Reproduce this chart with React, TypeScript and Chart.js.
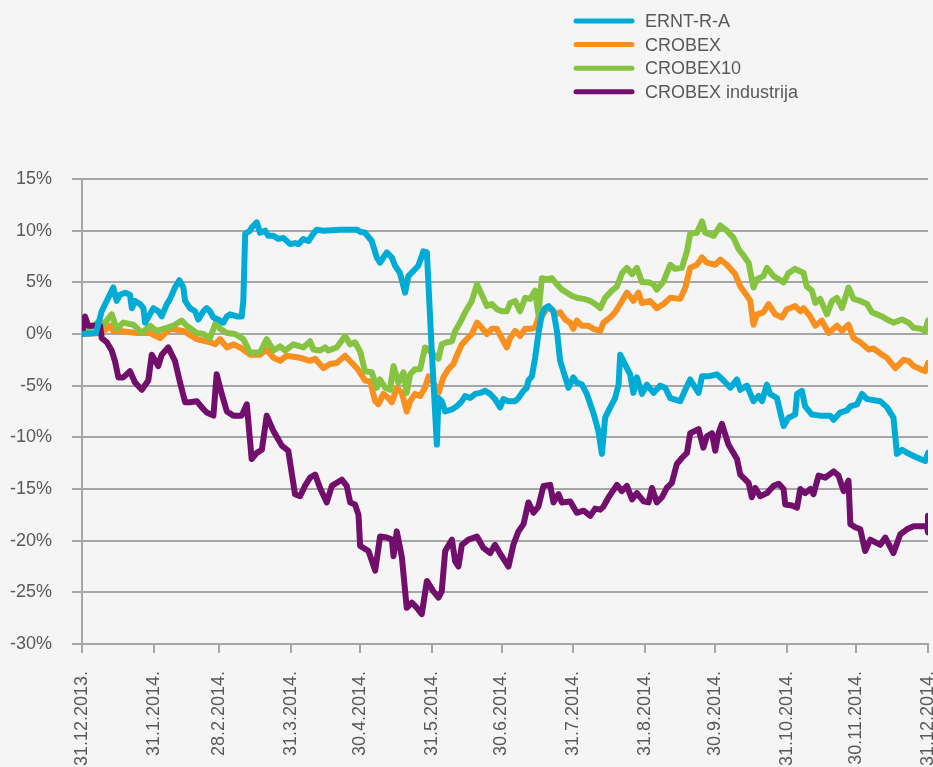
import React, { useEffect, useRef } from "react";
import { Chart, registerables } from "chart.js";

Chart.register(...registerables);

const seriesNames = ["ERNT-R-A", "CROBEX", "CROBEX10", "CROBEX industrija"];
const seriesColors = ["#00acd6", "#f7901e", "#85c341", "#720e6b"];

const tickDays = [0, 31, 59, 90, 120, 151, 181, 212, 243, 273, 304, 334, 365];
const tickLabels = [
  "31.12.2013.", "31.1.2014.", "28.2.2014.", "31.3.2014.", "30.4.2014.", "31.5.2014.",
  "30.6.2014.", "31.7.2014.", "31.8.2014.", "30.9.2014.", "31.10.2014.", "30.11.2014.", "31.12.2014.",
];

// ERNT-R-A
const erntDays = [
  0, 6, 8.5, 10.7, 13.5, 15, 16.4, 18.6, 20.7, 21.5, 22.9, 25, 26.5, 27.2, 30.8, 32.9, 34.4, 36.6, 38, 40.1,
  42, 43.7, 44.5, 46.6, 48.8, 50.2, 52.4, 53.8, 55.2, 56.7, 58.8, 61, 62.5, 63.9, 66.8, 68.9, 69.6, 70.4, 72.5, 73.2,
  75.4, 76.8, 79, 80.4, 82.6, 84.7, 86.9, 89.8, 91.9, 93.4, 95.5, 97.7, 99.8, 101.3, 104.1, 111.4, 118.6, 120, 122.1, 125,
  127.2, 128.6, 131.5, 133.7, 135.1, 137.2, 139.4, 140.8, 143, 145.1, 147.3, 148.8, 150.9, 153.1, 153.8, 155.2, 156.7, 159.6, 161.7, 163.9,
  165.3, 167.5, 169.6, 171.8, 173.9, 176.1, 178.2, 180.4, 181.8, 184, 186.9, 188.3, 190.5, 191.9, 192.6, 194.1, 195.5, 196.9, 198.4, 199.8,
  201.3, 203.4, 204.9, 206.3, 208.5, 209.9, 212, 213.5, 215.7, 217.8, 220.7, 222.8, 224.3, 225.7, 227.9, 230, 231.5, 232.2, 235.1, 236.5,
  237.9, 239.4, 241.6, 243.7, 246.6, 249.5, 251.6, 253.8, 258.1, 260.3, 262.4, 264.6, 266, 267.5, 270.3, 273.9, 276.8, 279.7, 282.6, 284,
  286.9, 289.7, 291.9, 293.4, 295.5, 296.9, 299.8, 302.7, 304.8, 307.7, 308.5, 310.6, 312, 314.9, 318.5, 322.8, 324.3, 327.1, 330, 331.5,
  334.4, 336.5, 338.7, 344.4, 347.3, 350.1, 351.6, 353.8, 355.9, 358.8, 361.7, 363.8, 365,
];
const erntValues = [
  0, 0.1, 2.2, 3.2, 4.5, 3.2, 3.8, 4.0, 3.8, 2.5, 3.2, 2.9, 2.5, 1.1, 2.5, 2.2, 1.7, 2.9, 3.4, 4.5,
  5.2, 4.5, 3.2, 2.5, 2.2, 1.4, 2.2, 2.5, 2.2, 1.6, 1.4, 1.1, 1.7, 1.9, 1.7, 1.7, 3.2, 9.7, 10.0, 10.3,
  10.8, 9.8, 10.0, 9.5, 9.5, 9.2, 9.3, 8.7, 8.8, 8.7, 9.2, 9.0, 9.7, 10.1, 10.0, 10.1, 10.1, 9.9, 9.8, 9.0,
  7.4, 6.9, 7.9, 7.4, 6.6, 5.9, 4.0, 5.6, 6.1, 6.6, 8.0, 7.9, -1.6, -10.7, -6.2, -6.5, -7.5, -7.3, -7.0, -6.5,
  -6.0, -6.2, -5.8, -5.7, -5.5, -5.8, -6.3, -7.1, -6.3, -6.5, -6.5, -6.2, -5.5, -5.2, -4.5, -4.1, -2.3, 0, 1.9, 2.5,
  2.7, 2.2, 0.3, -2.6, -4.2, -5.2, -4.2, -4.7, -4.9, -5.8, -7.7, -9.4, -11.6, -8.1, -7.1, -6.2, -4.9, -2.0, -3.3, -3.9,
  -5.7, -4.2, -5.8, -4.9, -5.7, -5.0, -5.2, -6.2, -6.5, -5.4, -4.4, -5.2, -5.7, -4.1, -4.1, -3.9, -4.5, -5.2, -4.4, -5.4,
  -5.0, -6.5, -6.0, -6.5, -4.9, -5.8, -6.2, -8.9, -8.1, -7.8, -5.8, -5.5, -7.0, -7.8, -7.9, -7.9, -8.3, -7.6, -7.4, -7.0,
  -6.8, -5.8, -6.3, -6.5, -7.1, -8.1, -11.6, -11.2, -11.5, -11.8, -12.1, -12.3, -11.5,
];

// CROBEX
const crobexDays = [
  0, 8.5, 12.1, 13.5, 16.4, 23.6, 29.3, 33.7, 38, 43.7, 49.5, 55.2, 57.4, 59.6, 62.5, 65.3, 68.2, 72.5, 76.8, 79.7,
  82.6, 85.5, 88.3, 94.1, 98.4, 100.6, 104.1, 107, 109.9, 113.5, 116.4, 118.6, 120.7, 122.1, 124.3, 126.5, 127.9, 130, 132.2, 133.7,
  135.8, 138, 140.1, 141.6, 143.7, 145.9, 148, 149.5, 151.6, 153.8, 155.9, 158.1, 160.3, 161.7, 163.9, 166, 168.2, 170.4, 172.5, 174.7,
  176.8, 179, 181.1, 183.3, 184.7, 186.9, 189, 191.2, 193.4, 195.5, 196.9, 198.4, 200.6, 202.7, 204.1, 206.3, 208.5, 210.6, 212, 213.5,
  215.7, 218.5, 220.7, 223.6, 225, 227.9, 230, 232.2, 235.1, 237.9, 240.1, 241.6, 245.1, 248, 250.9, 253.8, 258.1, 260.3, 262.4, 265.3,
  267.5, 269.6, 273.2, 275.4, 278.2, 281.8, 284, 286.9, 288.3, 289.7, 291.2, 294, 296.2, 299.1, 302, 304.1, 307.7, 309.9, 311.3, 314.2,
  316.4, 319.2, 322.1, 325.7, 327.9, 330.7, 332.9, 335.8, 339.4, 341.5, 345.8, 347.3, 350.9, 354.5, 356.6, 358.8, 361.7, 363.8, 365,
];
const crobexValues = [
  0, 0.1, 0.8, 0.3, 0.3, 0.1, 0.1, -0.4, 0.5, 0.3, -0.5, -0.8, -1.0, -0.5, -1.3, -1.0, -1.3, -2.0, -2.0, -1.5,
  -2.3, -2.6, -2.1, -2.3, -2.6, -2.4, -3.3, -2.9, -2.8, -2.1, -2.8, -3.3, -4.0, -4.5, -4.6, -6.5, -6.8, -5.8, -6.2, -6.6,
  -5.2, -5.7, -7.5, -6.5, -5.8, -6.0, -5.2, -4.1, -4.7, -5.7, -4.2, -3.4, -2.9, -2.1, -1.0, -0.5, 0, 1.1, 0.6, 0,
  0.5, 0.5, -0.4, -1.3, -0.4, 0.3, -0.2, 0.5, 0.5, 0.6, 1.6, 1.7, 2.5, 2.4, 1.9, 2.1, 1.4, 1.1, 0.5, 1.3,
  0.8, 0.8, 0.5, 0.3, 1.1, 1.6, 2.1, 2.9, 4.0, 3.2, 4.0, 3.0, 3.2, 2.5, 2.9, 3.5, 3.4, 4.5, 6.4, 6.7,
  7.4, 6.9, 6.7, 7.2, 6.7, 5.8, 4.6, 3.7, 3.2, 0.9, 1.9, 2.1, 2.9, 1.9, 1.6, 2.4, 2.7, 2.2, 2.5, 1.7,
  0.8, 1.3, 0.1, 0.8, 0.3, 0.9, -0.4, -0.8, -1.5, -1.4, -2.1, -2.3, -3.3, -2.5, -2.6, -3.1, -3.4, -3.6, -2.8,
];

// CROBEX10
const crobex10Days = [
  0, 7.8, 9.2, 12.8, 15, 17.8, 22.1, 23.6, 25.8, 29.3, 32.2, 36.6, 39.4, 43, 45.2, 49.5, 52.4, 55.2, 58.1, 59.6,
  62.5, 66, 69.6, 72.5, 76.8, 79.7, 82.6, 85.5, 87.6, 91.2, 95.5, 98.4, 99.8, 102.7, 104.9, 106.3, 109.9, 113.5, 115.7, 117.8,
  120, 122.1, 125, 127.2, 128.6, 130.8, 132.9, 134.4, 136.5, 138.7, 140.1, 141.6, 143.7, 145.9, 148, 150.9, 153.8, 155.2, 157.4, 159.6,
  161, 163.1, 165.3, 168.2, 170.4, 172.5, 174.7, 176.8, 179, 181.1, 183.3, 184.7, 186.9, 189, 191.2, 193.4, 195.5, 196.9, 198.4, 200.6,
  202.7, 204.9, 207, 209.2, 211.3, 213.5, 216.4, 219.3, 221.4, 223.6, 225.7, 228.6, 230.8, 233, 235.1, 237.3, 239.4, 241.6, 244.4, 246.6,
  248, 250.9, 253.8, 255.9, 258.8, 261, 262.4, 265.3, 267.5, 268.9, 272.5, 275.4, 278.2, 281.1, 283.3, 285.4, 287.6, 289.7, 291.2, 294,
  295.5, 298.4, 302.7, 304.8, 307.7, 311.3, 312.7, 314.9, 316.4, 318.5, 321.4, 323.6, 325.7, 327.9, 330.7, 332.9, 335.8, 338.7, 340.8, 343,
  345.1, 347.3, 350.1, 353.8, 356.6, 358.8, 361.7, 363.8, 365,
];
const crobex10Values = [
  0, 1.3, 0.9, 1.9, 0.5, 1.1, 0.9, 0.6, 0.1, 0.8, 0.3, 0.6, 0.8, 1.3, 0.8, 0.1, 0, -0.4, 1.3, 0.5,
  0.1, 0, -0.5, -1.8, -1.8, -0.5, -1.6, -1.2, -1.6, -1.0, -1.3, -0.7, -1.5, -1.6, -1.3, -1.6, -1.3, -0.2, -1.0, -0.8,
  -1.7, -3.6, -3.7, -5.2, -4.4, -5.2, -5.4, -3.1, -4.7, -3.7, -5.7, -3.9, -3.4, -3.4, -1.3, -1.8, -2.4, -1.0, -0.8, -0.7,
  0.3, 1.1, 2.1, 3.2, 4.8, 3.8, 2.7, 2.9, 2.4, 2.2, 2.2, 3.0, 3.2, 2.2, 3.5, 3.4, 4.2, 1.9, 5.4, 5.3,
  5.4, 4.8, 4.3, 4.0, 3.7, 3.5, 3.4, 3.2, 2.9, 2.5, 3.5, 4.2, 4.6, 5.9, 6.4, 5.8, 6.4, 5.0, 5.0, 4.8,
  4.3, 5.1, 6.7, 6.3, 6.4, 8.0, 9.7, 9.8, 10.9, 9.8, 9.5, 10.5, 10.0, 9.3, 8.2, 7.6, 6.9, 4.5, 5.3, 5.6,
  6.4, 5.6, 5.0, 5.9, 6.3, 5.9, 4.6, 4.2, 3.0, 3.4, 1.9, 3.2, 3.5, 2.5, 4.5, 3.4, 3.2, 2.9, 2.1, 1.9,
  1.7, 1.4, 1.1, 1.4, 1.1, 0.6, 0.5, 0.3, 1.3,
];

// CROBEX industrija
const industrijaDays = [
  0, 1.3, 2.7, 7.8, 8.5, 10.7, 12.8, 14.2, 15.7, 17.8, 20.7, 22.9, 25.8, 28.6, 30.1, 32.9, 34.4, 37.2, 40.1, 42.3,
  44.5, 46.6, 49.5, 51.7, 53.8, 56.7, 58.1, 60.3, 62.5, 65.3, 68.9, 71.1, 73.2, 75.4, 77.6, 79.7, 82.6, 84.7, 86.2, 89,
  91.9, 94.1, 96.2, 98.4, 100.6, 102.7, 105.6, 107.8, 109.9, 112.1, 114.2, 115.7, 117.8, 119.3, 120, 123.6, 126.5, 128.6, 131.5, 133.7,
  134.4, 135.8, 138, 140.1, 142.3, 144.5, 146.6, 148.8, 151.6, 153.8, 155.2, 156.7, 159.6, 161, 162.4, 163.9, 166.7, 170.4, 173.2, 176.1,
  178.2, 181.1, 184, 186.1, 188.3, 190.5, 192.6, 194.8, 196.9, 199.1, 202, 203.4, 205.6, 207, 210.6, 213.5, 216.4, 219.3, 221.4, 223.6,
  225, 227.2, 230.8, 232.9, 235.1, 237.3, 239.4, 242.3, 244.4, 245.9, 248, 250.2, 252.3, 254.5, 256.6, 258.8, 261, 262.4, 266, 268.1,
  269.6, 271.8, 273.2, 274.6, 276.1, 278.9, 282.6, 284, 287.6, 289, 290.5, 292.6, 295.5, 298.4, 300.6, 302.7, 303.4, 306.3, 308.5, 309.9,
  312, 314.2, 315.6, 317.8, 320.7, 324.3, 326.4, 328.6, 330.7, 331.5, 333.6, 335.8, 337.9, 340.1, 344.4, 346.6, 350.1, 353, 355.9, 358.8,
  364.5, 365, 365,
];
const industrijaValues = [
  0, 1.7, 0.8, 0.8, -0.4, -0.8, -1.6, -2.6, -4.2, -4.2, -3.6, -4.7, -5.4, -4.5, -2.0, -3.1, -2.0, -1.3, -2.6, -4.7,
  -6.6, -6.6, -6.5, -7.1, -7.6, -7.9, -3.9, -5.8, -7.5, -7.9, -7.9, -6.8, -12.1, -11.5, -11.2, -7.9, -9.4, -10.2, -10.8, -11.3,
  -15.5, -15.7, -14.7, -13.9, -13.6, -14.9, -16.3, -14.7, -14.4, -14.1, -14.7, -16.3, -16.5, -17.5, -20.5, -21.0, -22.9, -19.6, -19.7, -19.9,
  -21.5, -19.1, -21.6, -26.5, -26.0, -26.5, -27.1, -23.9, -24.9, -25.5, -24.9, -21.0, -19.9, -22.0, -22.5, -20.4, -19.9, -19.6, -20.7, -21.2,
  -20.4, -21.5, -22.5, -20.4, -19.1, -18.4, -16.3, -17.3, -16.7, -14.7, -14.6, -16.3, -15.5, -16.3, -16.2, -17.3, -17.1, -17.6, -16.9, -17.0,
  -16.7, -15.8, -14.6, -15.2, -14.7, -16.0, -15.4, -16.2, -16.3, -14.9, -16.3, -15.8, -14.9, -14.4, -12.6, -12.0, -11.5, -9.6, -9.2, -11.0,
  -9.9, -9.6, -11.3, -9.6, -8.7, -10.7, -12.1, -13.6, -14.4, -15.8, -14.9, -15.7, -15.4, -14.7, -14.5, -15.0, -16.5, -16.6, -16.8, -15.0,
  -15.4, -15.0, -15.5, -13.7, -13.9, -13.3, -13.7, -15.2, -14.2, -18.4, -18.7, -18.9, -21.0, -19.9, -20.4, -19.7, -21.2, -19.4, -18.9, -18.6,
  -18.6, -19.2, -17.6,
];

const seriesDays = [erntDays, crobexDays, crobex10Days, industrijaDays];
const seriesValues = [erntValues, crobexValues, crobex10Values, industrijaValues];
const seriesOrder = [0, 3, 2, 1];

const FONT = '"Liberation Sans", Arial, sans-serif';
const TEXT_COLOR = "#595959";
const GRID_COLOR = "#a6a6a6";
const W = 933;
const H = 767;

const legendPlugin = {
  id: "stackedLegend",
  afterDraw(chart: any) {
    const ctx = chart.ctx;
    ctx.save();
    chart.data.datasets.forEach((ds: any, i: number) => {
      const y = 21 + i * 23.6;
      ctx.strokeStyle = ds.borderColor;
      ctx.lineWidth = 5;
      ctx.lineCap = "round";
      ctx.beginPath();
      ctx.moveTo(576, y);
      ctx.lineTo(632, y);
      ctx.stroke();
      ctx.fillStyle = TEXT_COLOR;
      ctx.font = `18px ${FONT}`;
      ctx.textAlign = "left";
      ctx.textBaseline = "middle";
      ctx.fillText(ds.label, 645, y + 1);
    });
    ctx.restore();
  },
};

export default function App() {
  const canvasRef = useRef<HTMLCanvasElement | null>(null);

  useEffect(() => {
    const canvas = canvasRef.current;
    if (!canvas) return;
    const datasets = seriesNames.map((name, i) => ({
      label: name,
      data: seriesDays[i].map((d, k) => ({ x: d, y: seriesValues[i][k] })),
      borderColor: seriesColors[i],
      backgroundColor: seriesColors[i],
      borderWidth: 6,
      pointRadius: 0,
      tension: 0,
      borderJoinStyle: "round" as const,
      borderCapStyle: "round" as const,
      order: seriesOrder[i],
    }));

    const chart = new Chart(canvas, {
      type: "line",
      data: { datasets },
      plugins: [legendPlugin],
      options: {
        responsive: false,
        animation: false,
        devicePixelRatio: 1,
        layout: { padding: { top: 179, right: 5, left: 0, bottom: 0 } },
        plugins: {
          legend: { display: false },
          tooltip: { enabled: false },
        },
        scales: {
          x: {
            type: "linear",
            min: 0,
            max: 365,
            afterBuildTicks: (scale: any) => {
              scale.ticks = tickDays.map((v) => ({ value: v }));
            },
            afterFit: (scale: any) => {
              scale.height = H - 644;
              scale.paddingLeft = 0;
              scale.paddingRight = 0;
            },
            ticks: {
              autoSkip: false,
              maxRotation: 90,
              minRotation: 90,
              padding: 18,
              color: TEXT_COLOR,
              font: { family: FONT, size: 18 },
              callback: (value: any) => {
                const idx = tickDays.indexOf(Number(value));
                return idx >= 0 ? tickLabels[idx] : "";
              },
            },
            grid: {
              drawOnChartArea: false,
              drawTicks: true,
              tickLength: 9,
              color: GRID_COLOR,
              lineWidth: 2,
            },
            border: { display: true, color: GRID_COLOR, width: 2 },
          },
          y: {
            type: "linear",
            min: -30,
            max: 15,
            afterFit: (scale: any) => {
              scale.width = 82;
            },
            ticks: {
              stepSize: 5,
              padding: 20,
              color: TEXT_COLOR,
              font: { family: FONT, size: 18 },
              callback: (value: any) => `${value}%`,
            },
            grid: {
              color: GRID_COLOR,
              lineWidth: 2,
              drawTicks: true,
              tickLength: 10,
            },
            border: { display: true, color: GRID_COLOR, width: 2 },
          },
        },
      },
    });
    return () => chart.destroy();
  }, []);

  return (
    <div
      style={{
        position: "fixed",
        left: 0,
        top: 0,
        width: W,
        height: H,
        background: "#f5f5f5",
        overflow: "hidden",
      }}
    >
      <canvas ref={canvasRef} width={W} height={H} style={{ display: "block" }} />
    </div>
  );
}
